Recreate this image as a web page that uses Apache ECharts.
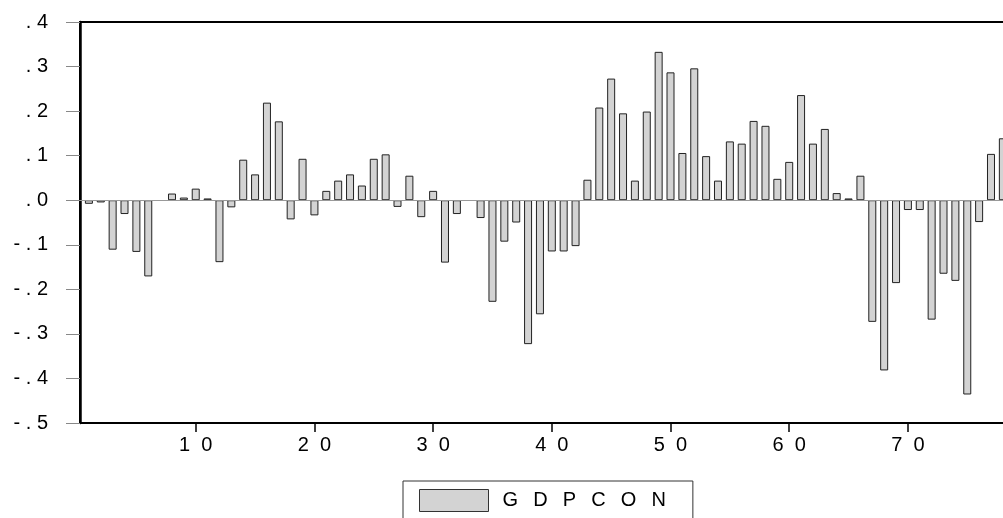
<!DOCTYPE html>
<html>
<head>
<meta charset="utf-8">
<script src="https://cdn.jsdelivr.net/npm/echarts@6/dist/echarts.min.js"></script>
<style>
html,body{margin:0;padding:0;background:#fff;}
#chart{width:1003px;height:518px;}
</style>
</head>
<body>
<div id="chart"></div>
<script>
const seriesName = 'GDPCON';
const observations = [1,2,3,4,5,6,7,8,9,10,11,12,13,14,15,16,17,18,19,20,21,22,23,24,25,26,27,28,29,30,31,32,33,34,35,36,37,38,39,40,41,42,43,44,45,46,47,48,49,50,51,52,53,54,55,56,57,58,59,60,61,62,63,64,65,66,67,68,69,70,71,72,73,74,75,76,77,78];
const gdpconValues = [
  -0.008,-0.005,-0.111,-0.031,-0.116,-0.171,0,0.015,0.006,0.026,
  0.004,-0.139,-0.016,0.091,0.058,0.219,0.177,-0.043,0.093,-0.034,
  0.021,0.044,0.058,0.033,0.093,0.103,-0.015,0.055,-0.038,0.021,
  -0.140,-0.031,0,-0.040,-0.228,-0.093,-0.050,-0.323,-0.256,-0.115,
  -0.115,-0.103,0.046,0.208,0.273,0.195,0.044,0.199,0.333,0.287,
  0.106,0.296,0.099,0.044,0.132,0.127,0.178,0.167,0.048,0.086,
  0.236,0.127,0.160,0.016,0.004,0.055,-0.273,-0.382,-0.186,-0.022,
  -0.022,-0.268,-0.165,-0.181,-0.436,-0.049,0.104,0.139
];
const xTickValues = [10,20,30,40,50,60,70];
const xTickLabels = ['1  0','2  0','3  0','4  0','5  0','6  0','7  0'];
const yTickValues = [-0.5,-0.4,-0.3,-0.2,-0.1,0,0.1,0.2,0.3,0.4];
const yTickLabels = ['- . 5','- . 4','- . 3','- . 2','- . 1','. 0','. 1','. 2','. 3','. 4'];

const FONT = '"Liberation Sans", Arial, sans-serif';
const chart = echarts.init(document.getElementById('chart'), null, {renderer:'canvas'});
chart.setOption({
  animation: false,
  backgroundColor: '#ffffff',
  grid: {
    left: 80, top: 22, width: 946.6, height: 401,
    show: true, borderColor: '#000', borderWidth: 2, backgroundColor: 'transparent',
    containLabel: false,
    outerBoundsMode: 'none'
  },
  legend: {
    show: true,
    left: 403, top: 481,
    orient: 'horizontal',
    padding: [8, 27, 20, 16],
    borderColor: '#333', borderWidth: 1,
    itemWidth: 69, itemHeight: 22,
    icon: 'rect',
    itemStyle: {color: '#d3d3d3', borderColor: '#333', borderWidth: 1},
    textStyle: {fontFamily: FONT, fontSize: 20, color: '#000', padding: [0,0,0,9]},
    formatter: function (name) { return name.split('').join('  \u2009'); },
    data: [seriesName]
  },
  xAxis: {
    type: 'value',
    min: 0.25, max: 80,
    splitLine: {show: false},
    axisLine: {show: true, onZero: false, lineStyle: {color: '#000', width: 2}},
    axisTick: {show: true, inside: false, length: 9, customValues: xTickValues, lineStyle: {color: '#000', width: 1.5}},
    axisLabel: {
      show: true, margin: 12, customValues: xTickValues,
      fontFamily: FONT, fontSize: 20, color: '#000',
      formatter: function (v) { const i = xTickValues.indexOf(Math.round(v)); return i >= 0 ? xTickLabels[i] : ''; }
    }
  },
  yAxis: {
    type: 'value',
    min: -0.5, max: 0.4, interval: 0.1,
    splitLine: {show: false},
    axisLine: {show: true, lineStyle: {color: '#000', width: 2.5}},
    axisTick: {show: true, inside: false, length: 14, lineStyle: {color: '#888', width: 1}},
    axisLabel: {
      show: true, margin: 32,
      fontFamily: FONT, fontSize: 20, color: '#000',
      formatter: function (v) { const i = Math.round((v - yTickValues[0]) / 0.1); return yTickLabels[i] !== undefined ? yTickLabels[i] : ''; }
    }
  },
  series: [{
    name: seriesName,
    type: 'bar',
    barWidth: 8,
    clip: true,
    itemStyle: {color: '#d3d3d3', borderColor: '#222', borderWidth: 1},
    data: observations.map(function (o, i) {
      const v = gdpconValues[i];
      return v === 0 ? {value: [o, v], itemStyle: {borderWidth: 0}} : [o, v];
    }),
    markLine: {
      silent: true, symbol: 'none', label: {show: false},
      lineStyle: {color: '#999', width: 1, type: 'solid'},
      data: [{yAxis: 0}]
    }
  }]
});
</script>
</body>
</html>
